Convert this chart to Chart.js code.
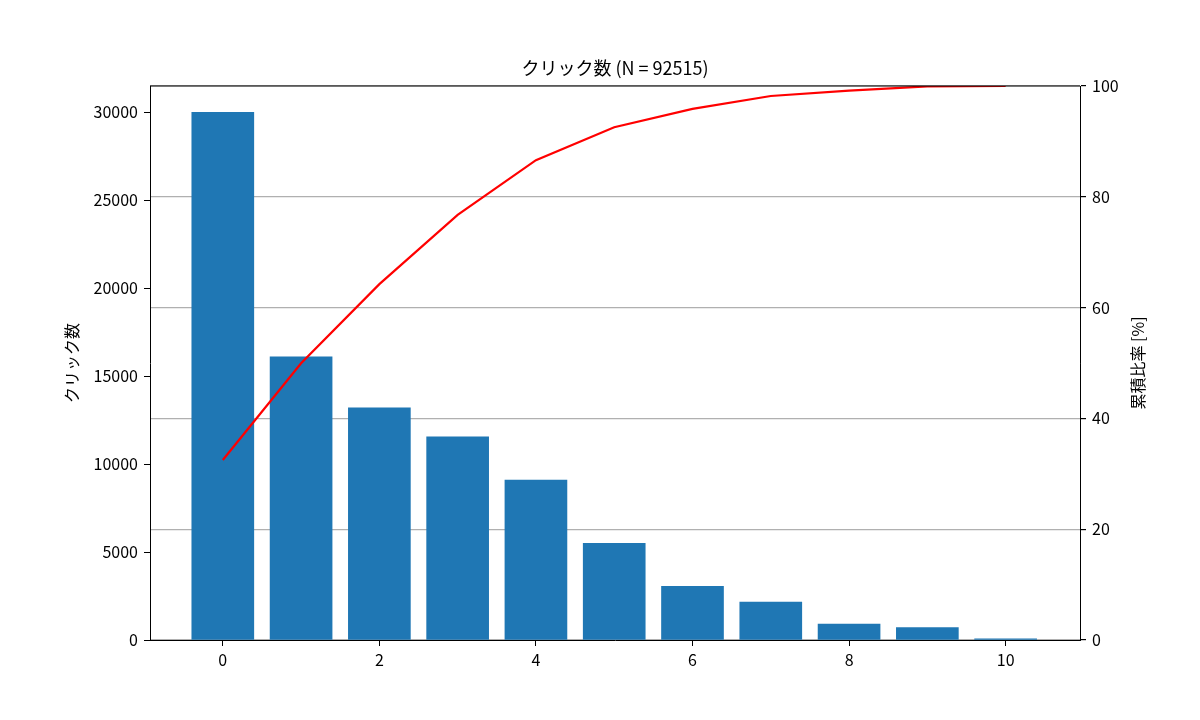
<!DOCTYPE html>
<html>
<head>
<meta charset="utf-8">
<script src="https://cdn.jsdelivr.net/npm/chart.js@4/dist/chart.umd.min.js"></script>
<style>
html, body { margin: 0; padding: 0; background: #fff; }
#wrap { width: 1200px; height: 720px; }
</style>
</head>
<body>
<div id="wrap"><canvas id="pareto" width="1200" height="720"></canvas></div>
<script>
// data
const categories = [0, 1, 2, 3, 4, 5, 6, 7, 8, 9, 10];
const clicks = [30000, 16100, 13200, 11550, 9100, 5500, 3050, 2150, 900, 700, 65];
const leftTicks = [0, 5000, 10000, 15000, 20000, 25000, 30000];
const rightTicks = [0, 20, 40, 60, 80, 100];
const xTicks = [0, 2, 4, 6, 8, 10];

const total = clicks.reduce((a, b) => a + b, 0);
let run = 0;
const cumPct = clicks.map(v => { run += v; return run / total * 100; });

const FONT = '"Noto Sans CJK JP", "DejaVu Sans", sans-serif';

// title, axis titles, top border
const extras = {
    id: 'extras',
    afterDraw(chart) {
        const c = chart.ctx, a = chart.chartArea;
        const midY = (a.top + a.bottom) / 2;
        c.save();
        c.strokeStyle = '#000';
        c.lineWidth = 1;
        c.beginPath();
        c.moveTo(a.left, a.top);
        c.lineTo(a.right, a.top);
        c.stroke();
        c.fillStyle = '#000';
        c.textAlign = 'center';
        c.textBaseline = 'middle';
        c.font = '18px ' + FONT;
        c.fillText('クリック数 (N = 92515)', (a.left + a.right) / 2, 68);
        c.font = '16px ' + FONT;
        c.save();
        c.translate(72, midY);
        c.rotate(-Math.PI / 2);
        c.fillText('クリック数', 0, 0);
        c.restore();
        c.save();
        c.translate(1138, midY);
        c.rotate(-Math.PI / 2);
        c.fillText('累積比率 [%]', 0, 0);
        c.restore();
        c.restore();
    }
};

const ctx = document.getElementById('pareto').getContext('2d');
new Chart(ctx, {
    type: 'bar',
    data: {
        datasets: [{
            type: 'line',
            data: categories.map((c, i) => ({ x: c, y: cumPct[i] })),
            borderColor: '#ff0000',
            borderWidth: 2.2,
            pointRadius: 0,
            yAxisID: 'y2',
            order: 0
        }, {
            type: 'bar',
            data: categories.map((c, i) => ({ x: c, y: clicks[i] })),
            backgroundColor: '#1f77b4',
            borderWidth: 0,
            barThickness: 62,
            yAxisID: 'y',
            order: 1
        }]
    },
    options: {
        responsive: false,
        animation: false,
        layout: { padding: { top: 86, right: 0, left: 0, bottom: 0 } },
        plugins: { legend: { display: false }, tooltip: { enabled: false } },
        scales: {
            x: {
                type: 'linear',
                offset: false,
                min: -0.93, max: 10.95,
                afterBuildTicks: s => { s.ticks = xTicks.map(v => ({ value: v })); },
                afterFit: s => { s.height = 80; },
                grid: { offset: false, drawOnChartArea: false, tickLength: 6, color: '#000' },
                border: { color: '#000' },
                ticks: { color: '#000', font: { size: 16, family: FONT }, padding: 4 }
            },
            y: {
                position: 'left',
                min: 0, max: 31500,
                afterBuildTicks: s => { s.ticks = leftTicks.map(v => ({ value: v })); },
                afterFit: s => { s.width = 150; },
                grid: { drawOnChartArea: false, tickLength: 6, color: '#000' },
                border: { color: '#000' },
                ticks: { color: '#000', font: { size: 16, family: FONT }, padding: 6, callback: v => String(v) }
            },
            y2: {
                position: 'right',
                min: 0, max: 100,
                afterBuildTicks: s => { s.ticks = rightTicks.map(v => ({ value: v })); },
                afterFit: s => { s.width = 120; },
                grid: { drawOnChartArea: true, tickLength: 6, color: '#b0b0b0', tickColor: '#000', lineWidth: 1.2 },
                border: { color: '#000' },
                ticks: { color: '#000', font: { size: 16, family: FONT }, padding: 6 }
            }
        }
    },
    plugins: [extras]
});
</script>
</body>
</html>
